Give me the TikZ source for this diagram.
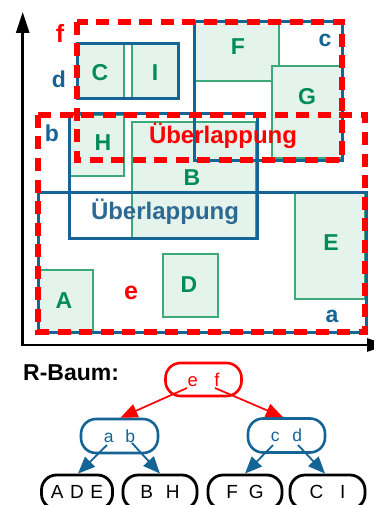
\documentclass[tikz,border=0pt]{standalone}
\usepackage{fontspec}
\setmainfont{Liberation Sans}
\usetikzlibrary{arrows.meta}
\definecolor{rblue}{RGB}{20,100,150}
\definecolor{ublue}{RGB}{45,105,145}
\definecolor{rred}{RGB}{255,0,0}
\definecolor{gtext}{RGB}{0,140,90}
\definecolor{gline}{RGB}{60,170,120}
\definecolor{gfill}{RGB}{228,243,236}
\begin{document}
\begin{tikzpicture}[x=1pt,y=-1pt,
  gbox/.style={draw=gline,fill=gfill,line width=1.3pt},
  bbox/.style={draw=rblue,line width=3pt},
  rbox/.style={draw=rred,line width=6pt,dash pattern=on 13pt off 8.5pt},
  glab/.style={text=gtext,font=\bfseries\fontsize{23}{23}\selectfont,inner sep=0pt},
  blab/.style={text=rblue,font=\bfseries\fontsize{23}{23}\selectfont,inner sep=0pt},
  rlab/.style={text=rred,font=\bfseries\fontsize{25}{25}\selectfont,inner sep=0pt},
  ovl/.style={font=\bfseries\fontsize{24}{24}\selectfont,inner sep=0pt},
  axis/.style={draw=black,line width=2.7pt,-{Triangle[length=21pt,width=13pt]}},
  tnode/.style={draw,line width=2.6pt,rounded corners=15pt,inner sep=0pt,minimum height=33pt},
  rootnode/.style={tnode,draw=rred,text=rred,font=\fontsize{18.5}{18.5}\selectfont,minimum width=76pt},
  midnode/.style={tnode,draw=rblue,text=rblue,font=\fontsize{17.5}{17.5}\selectfont,minimum width=77pt,minimum height=34pt},
  leafnode/.style={tnode,draw=black,line width=2.8pt,text=black,font=\fontsize{19}{19}\selectfont,minimum height=34pt},
  rarrow/.style={draw=rred,line width=1.7pt,-{Triangle[length=17pt,width=14pt]}},
  barrow/.style={draw=rblue,line width=1.8pt,-{Triangle[length=17pt,width=14pt]}}
]
\useasboundingbox (0,0) rectangle (374,505);
\fill[white] (0,0) rectangle (374,505);

% axes
\coordinate (org) at (22.7,345);
\coordinate (ytip) at (22.7,12);
\coordinate (xtip) at (388,345);
\draw[axis] (org) -- (ytip);
\draw[axis] ([xshift=-1.3pt]org) -- (xtip);

% green data rectangles
\draw[gbox] (77,44) rectangle (124,99);
\draw[gbox] (132,44) rectangle (178,99);
\draw[gbox] (194,22) rectangle (279,81);
\draw[gbox] (272,66) rectangle (342,158);
\draw[gbox] (70,115) rectangle (124,176);
\draw[gbox] (132,122) rectangle (256,238);
\draw[gbox] (295,193) rectangle (365,299);
\draw[gbox] (38,270) rectangle (93,332);
\draw[gbox] (163,254) rectangle (218,317);

% blue bounding boxes
\draw[bbox] (77,44) rectangle (178,99);
\draw[bbox] (194,22) rectangle (342,160);
\draw[bbox] (69,114) rectangle (257,238);
\draw[bbox] (38,192) rectangle (366,332);

% red bounding boxes
\draw[rbox] (77,22) rectangle (342,160);
\draw[rbox] (38,115) rectangle (365,332);

% labels of data rectangles
\node[glab] (lC) at (100,72.5) {C};
\node[glab] (lI) at (155,72.5) {I};
\node[glab] (lF) at (238,47) {F};
\node[glab] (lG) at (307,97) {G};
\node[glab] (lH) at (103,143) {H};
\node[glab] (lB) at (192,178) {B};
\node[glab] (lE) at (331,243) {E};
\node[glab] (lA) at (64,301) {A};
\node[glab] (lD) at (189,285) {D};

% labels of boxes
\node[blab] (la) at (332,316) {a};
\node[blab] (lb) at (52,133) {b};
\node[blab] (lc) at (325,40) {c};
\node[blab] (ld) at (59,79) {d};
\node[rlab] (le) at (131,293) {e};
\node[rlab] (lf) at (60,33) {f};

\node[ovl,text=rred] (ov1) at (223,136) {Überlappung};
\node[ovl,text=ublue] (ov2) at (165,212) {Überlappung};

% R-tree
\node[anchor=west,inner sep=0pt,font=\bfseries\fontsize{23}{23}\selectfont] (title) at (23,373) {R-Baum:};

\node[rootnode] (root) at (203.5,379.5) {e\hspace{16.5pt}f};
\node[midnode] (ab) at (119.5,436) {a\hspace{12pt}b};
\node[midnode] (cd) at (286.5,435.5) {c\hspace{13pt}d};
\node[leafnode,minimum width=71pt] (ade) at (77,492) {A\hspace{6.5pt}D\hspace{6.5pt}E};
\node[leafnode,minimum width=74pt] (bh) at (160,492) {B\hspace{13pt}H};
\node[leafnode,minimum width=74pt] (fg) at (245,492) {F\hspace{10.8pt}G};
\node[leafnode,minimum width=75pt] (ci) at (327.5,492) {C\hspace{16.7pt}I};

\draw[rarrow] ([shift={(-16.5,8.5)}]root.center) -- ([xshift=1pt]ab.north);
\draw[rarrow] ([shift={(11.5,8.5)}]root.center) -- ([xshift=-3.5pt]cd.north);
\draw[barrow] ([shift={(-12.5,9)}]ab.center) -- ([xshift=1pt]ade.north);
\draw[barrow] ([shift={(12.5,7)}]ab.center) -- (bh.north);
\draw[barrow] ([shift={(-13.5,9.5)}]cd.center) -- (fg.north);
\draw[barrow] ([shift={(11.5,9.5)}]cd.center) -- ([xshift=-2.5pt]ci.north);
\end{tikzpicture}
\end{document}
